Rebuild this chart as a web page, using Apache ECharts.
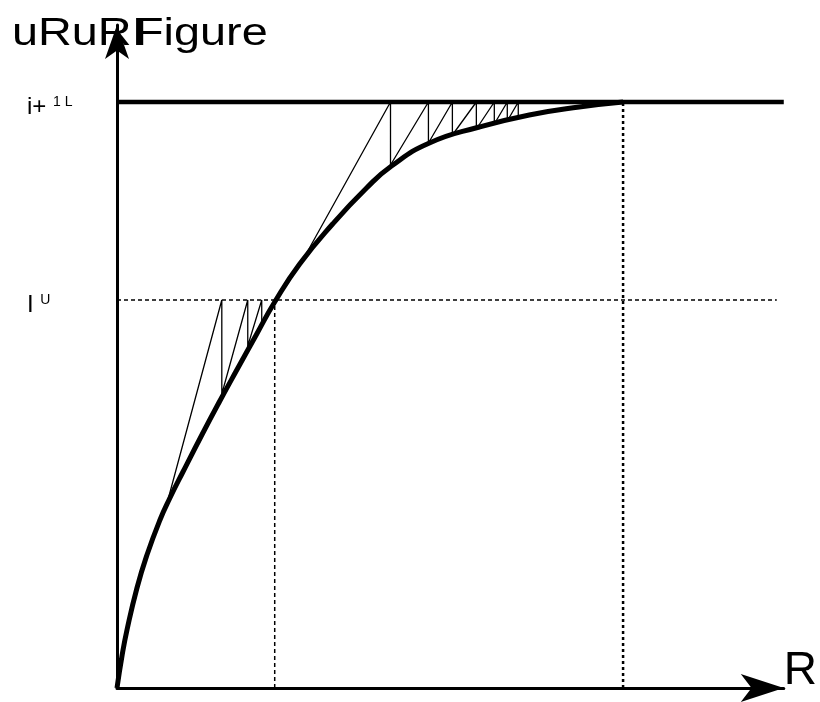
<!DOCTYPE html>
<html>
<head>
<meta charset="utf-8">
<script src="https://cdn.jsdelivr.net/npm/echarts@6/dist/echarts.min.js"></script>
<style>
html,body{margin:0;padding:0;background:#fff;}
#chart{width:820px;height:702px;}
</style>
</head>
<body>
<div id="chart"></div>
<script>
// Main curve (x, y in axis units)
const curveX = [0, 5, 10, 20, 30, 43, 53, 66, 86, 103, 120, 140, 158, 183, 216, 250, 275, 313, 363, 413, 463, 507];
const curveY = [0, 32, 58, 100, 133, 168, 190, 216, 255, 287, 318, 354, 386, 424, 464, 500, 522, 545, 561, 573, 581, 586];

// Lower sawtooth (thin)
const sawLowX = [51, 105, 105, 131, 131, 145, 145, 158];
const sawLowY = [188, 388, 294, 388, 342, 388, 363, 388];

// Upper sawtooth (thin)
const sawUpX = [185, 274, 274, 312, 312, 336, 336, 360, 360, 378, 378, 391, 391, 402, 402];
const sawUpY = [426, 586, 523, 586, 545, 586, 553, 586, 559, 586, 564, 586, 567, 586, 570];

// Levels
const topLevel = 586;
const midLevel = 388;
const midX = 158;
const topX = 507;
const xMax = 668;
const yMax = 663;
const hDashEnd = 661;

// Tick labels
const yTickValues = [388, 586];
const yTickMain = ['I', 'i+'];
const yTickSup = ['U', '1 L'];

const titleParts = ['uRuRI', 'Figure'];
const xAxisName = 'R';

function zip(xs, ys) { return xs.map((x, i) => [x, ys[i]]); }

const chart = echarts.init(document.getElementById('chart'), null, {renderer: 'canvas'});
const FONT = '"Liberation Sans", Arial, sans-serif';

const option = {
  animation: false,
  backgroundColor: '#fff',
  grid: {left: 117, top: 25, width: 668, height: 663, containLabel: false},
  xAxis: {
    type: 'value', min: 0, max: xMax,
    name: xAxisName, nameLocation: 'end', nameGap: 0,
    nameTextStyle: {fontSize: 46, fontFamily: FONT, color: '#000', verticalAlign: 'bottom', padding: [0, 0, -6, 0]},
    axisLine: {show: true, symbol: ['none', 'arrow'], symbolSize: [21, 43], symbolOffset: [0, 0],
      lineStyle: {color: '#000', width: 3}},
    axisTick: {show: false}, axisLabel: {show: false}, splitLine: {show: false}
  },
  yAxis: {
    type: 'value', min: 0, max: yMax,
    axisLine: {show: true, symbol: ['none', 'arrow'], symbolSize: [18, 34], symbolOffset: [0, 0],
      lineStyle: {color: '#000', width: 3}},
    axisTick: {show: false}, splitLine: {show: false},
    axisLabel: {
      show: true, customValues: yTickValues, align: 'left', margin: 90,
      padding: [10, 0, 0, 0],
      formatter: function (v) {
        const i = yTickValues.indexOf(v);
        return '{m|' + yTickMain[i] + ' }{s|' + yTickSup[i] + '}';
      },
      rich: {
        m: {fontSize: 24, fontFamily: FONT, color: '#000', verticalAlign: 'bottom'},
        s: {fontSize: 14, fontFamily: FONT, color: '#000', verticalAlign: 'top'}
      }
    }
  },
  graphic: [
    {type: 'text', x: 12, y: 15, scaleX: 1.2, z: 0,
      style: {text: titleParts[0], font: '39px ' + FONT, fill: '#000', textVerticalAlign: 'top'}},
    {type: 'text', x: 135, y: 15, scaleX: 1.2, z: 0,
      style: {text: titleParts[1], font: '39px ' + FONT, fill: '#000', textVerticalAlign: 'top'}}
  ],
  series: [
    {type: 'line', data: [[0, topLevel], [xMax, topLevel]], symbol: 'none', clip: false,
      lineStyle: {color: '#000', width: 4.5}, z: 3},
    {type: 'line', data: [[0, midLevel], [hDashEnd, midLevel]], symbol: 'none',
      lineStyle: {color: '#000', width: 1.5, type: [4, 3]}, z: 2},
    {type: 'line', data: [[midX, 0], [midX, midLevel]], symbol: 'none',
      lineStyle: {color: '#000', width: 1.5, type: [4, 3]}, z: 2},
    {type: 'line', data: [[topX, 0], [topX, topLevel]], symbol: 'none',
      lineStyle: {color: '#000', width: 2.5, type: [3, 3]}, z: 2},
    {type: 'line', data: zip(sawLowX, sawLowY), symbol: 'none',
      lineStyle: {color: '#000', width: 1.3}, z: 3},
    {type: 'line', data: zip(sawUpX, sawUpY), symbol: 'none',
      lineStyle: {color: '#000', width: 1.3}, z: 3},
    {type: 'line', data: zip(curveX, curveY), symbol: 'none', smooth: 0.5,
      lineStyle: {color: '#000', width: 5}, z: 4}
  ]
};
chart.setOption(option);
</script>
</body>
</html>
